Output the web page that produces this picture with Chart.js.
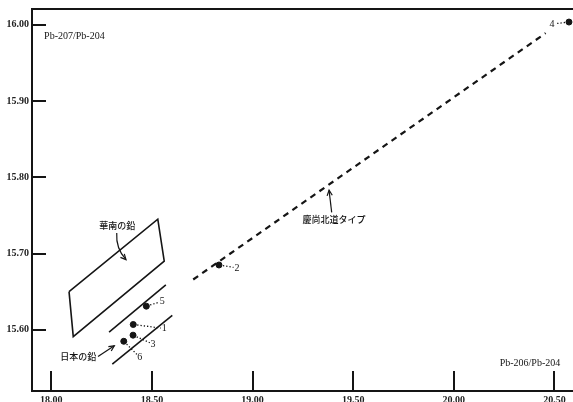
<!DOCTYPE html>
<html>
<head>
<meta charset="utf-8">
<script src="https://cdn.jsdelivr.net/npm/chart.js@4"></script>
<style>
  html, body { margin: 0; padding: 0; background: #fff; }
</style>
</head>
<body>
<canvas id="chart" width="573" height="402"></canvas>
<script>
// tick labels
const xTicks = [18.0, 18.5, 19.0, 19.5, 20.0, 20.5];
const yTicks = [15.6, 15.7, 15.8, 15.9, 16.0];

// lead samples (Pb-206/Pb-204, Pb-207/Pb-204)
const sampleIds = ['1', '2', '3', '4', '5', '6'];
const sampleX = [18.407, 18.833, 18.406, 20.572, 18.472, 18.360];
const sampleY = [15.607, 15.685, 15.593, 16.0035, 15.631, 15.585];

// 慶尚北道タイプ trend
const trendX = [18.705, 20.456];
const trendY = [15.666, 15.989];

// 華南の鉛 field
const huananX = [18.088, 18.529, 18.561, 18.109, 18.088];
const huananY = [15.650, 15.745, 15.690, 15.591, 15.650];

// 日本の鉛 band
const japanUpperX = [18.287, 18.569];
const japanUpperY = [15.597, 15.659];
const japanLowerX = [18.303, 18.601];
const japanLowerY = [15.555, 15.619];

// text labels, anchored in data units
const notes = [
  { text: '華南の鉛', x: 18.328, y: 15.737, from: [18.325, 15.727], to: [18.371, 15.692], bend: 6 },
  { text: '日本の鉛', x: 18.134, y: 15.565, from: [18.232, 15.565], to: [18.313, 15.579], bend: 0 },
  { text: '慶尚北道タイプ', x: 19.404, y: 15.744, from: [19.393, 15.754], to: [19.380, 15.783], bend: 0 }
];
const axisNames = [
  { text: 'Pb-207/Pb-204', x: 17.964, y: 15.985, align: 'left' },
  { text: 'Pb-206/Pb-204', x: 20.378, y: 15.556, align: 'center' }
];

// label offsets for sample numbers, in px (style only)
const idOffsets = [[31, 4], [18, 3], [20, 9], [-17, 2], [16, -5], [16, 16]];

const ink = '#151515';
const serif = '"Liberation Serif", "DejaVu Serif", serif';
const cjk = '"Noto Sans CJK JP", "Noto Sans CJK SC", sans-serif';

function pairs(xs, ys) {
  return xs.map((x, i) => ({ x: x, y: ys[i] }));
}

function arrowHead(ctx, x0, y0, x1, y1, size) {
  const a = Math.atan2(y1 - y0, x1 - x0);
  ctx.beginPath();
  ctx.moveTo(x1 - size * Math.cos(a - 0.45), y1 - size * Math.sin(a - 0.45));
  ctx.lineTo(x1, y1);
  ctx.lineTo(x1 - size * Math.cos(a + 0.45), y1 - size * Math.sin(a + 0.45));
  ctx.stroke();
}

const decorations = {
  id: 'decorations',
  afterDraw(chart) {
    const ctx = chart.ctx;
    const xs = chart.scales.x;
    const ys = chart.scales.y;
    const area = chart.chartArea;
    ctx.save();
    ctx.strokeStyle = ink;
    ctx.fillStyle = ink;

    // frame: top, left, bottom (right side runs off the page)
    ctx.lineWidth = 2;
    ctx.beginPath();
    ctx.moveTo(chart.width, area.top);
    ctx.lineTo(area.left, area.top);
    ctx.lineTo(area.left, area.bottom);
    ctx.lineTo(chart.width, area.bottom);
    ctx.stroke();

    // inward tick marks
    ys.ticks.forEach(t => {
      const py = Math.round(ys.getPixelForValue(t.value));
      ctx.beginPath();
      ctx.moveTo(area.left, py);
      ctx.lineTo(area.left + 14, py);
      ctx.stroke();
    });
    xs.ticks.forEach(t => {
      const px = Math.round(xs.getPixelForValue(t.value));
      ctx.beginPath();
      ctx.moveTo(px, area.bottom);
      ctx.lineTo(px, area.bottom - 20);
      ctx.stroke();
    });

    // sample numbers with dotted leaders
    ctx.font = '10px ' + serif;
    ctx.textAlign = 'center';
    ctx.textBaseline = 'middle';
    sampleIds.forEach((id, i) => {
      const px = xs.getPixelForValue(sampleX[i]);
      const py = ys.getPixelForValue(sampleY[i]);
      const lx = px + idOffsets[i][0];
      const ly = py + idOffsets[i][1];
      const d = Math.hypot(lx - px, ly - py);
      const ux = (lx - px) / d, uy = (ly - py) / d;
      ctx.lineWidth = 1.3;
      ctx.setLineDash([1.3, 2]);
      ctx.beginPath();
      ctx.moveTo(px + ux * 4, py + uy * 4);
      ctx.lineTo(lx - ux * 3.5, ly - uy * 3.5);
      ctx.stroke();
      ctx.setLineDash([]);
      ctx.fillText(id, lx, ly);
    });

    // notes with arrows
    ctx.font = '500 9px ' + cjk;
    ctx.lineWidth = 1.2;
    notes.forEach(n => {
      ctx.fillText(n.text, xs.getPixelForValue(n.x), ys.getPixelForValue(n.y));
      const x0 = xs.getPixelForValue(n.from[0]), y0 = ys.getPixelForValue(n.from[1]);
      const x1 = xs.getPixelForValue(n.to[0]), y1 = ys.getPixelForValue(n.to[1]);
      const mx = (x0 + x1) / 2, my = (y0 + y1) / 2;
      const len = Math.hypot(x1 - x0, y1 - y0);
      const cx = mx - (y1 - y0) / len * n.bend, cy = my + (x1 - x0) / len * n.bend;
      ctx.beginPath();
      ctx.moveTo(x0, y0);
      ctx.quadraticCurveTo(cx, cy, x1, y1);
      ctx.stroke();
      arrowHead(ctx, cx, cy, x1, y1, 6);
    });

    // axis names
    ctx.font = '10px ' + serif;
    axisNames.forEach(a => {
      ctx.textAlign = a.align;
      ctx.fillText(a.text, xs.getPixelForValue(a.x), ys.getPixelForValue(a.y));
    });
    ctx.restore();
  }
};

const lineStyle = { showLine: true, pointRadius: 0, borderColor: ink, fill: false, tension: 0 };

new Chart(document.getElementById('chart'), {
  type: 'scatter',
  data: {
    datasets: [
      Object.assign({ label: 'trend', data: pairs(trendX, trendY), borderWidth: 2.2, borderDash: [6, 5] }, lineStyle),
      Object.assign({ label: 'huanan', data: pairs(huananX, huananY), borderWidth: 1.6 }, lineStyle),
      Object.assign({ label: 'japanUpper', data: pairs(japanUpperX, japanUpperY), borderWidth: 1.6 }, lineStyle),
      Object.assign({ label: 'japanLower', data: pairs(japanLowerX, japanLowerY), borderWidth: 1.6 }, lineStyle),
      {
        label: 'samples',
        data: pairs(sampleX, sampleY),
        pointRadius: 3,
        pointBackgroundColor: ink,
        pointBorderColor: ink,
        showLine: false
      }
    ]
  },
  options: {
    responsive: false,
    animation: false,
    layout: { autoPadding: false, padding: { top: 9, left: 0, right: 0, bottom: 0 } },
    plugins: { legend: { display: false }, tooltip: { enabled: false } },
    scales: {
      x: {
        type: 'linear',
        min: 17.904,
        max: 20.592,
        afterBuildTicks: s => { s.ticks = xTicks.map(v => ({ value: v })); },
        afterFit: s => { s.height = 11; s.paddingLeft = 0; s.paddingRight = 0; },
        grid: { display: false, drawTicks: false },
        border: { display: false },
        ticks: {
          padding: 3,
          maxRotation: 0,
          color: '#222',
          font: { family: serif, size: 10, weight: 'bold' },
          callback: v => v.toFixed(2)
        }
      },
      y: {
        type: 'linear',
        min: 15.5198,
        max: 16.0206,
        afterBuildTicks: s => { s.ticks = yTicks.map(v => ({ value: v })); },
        afterFit: s => { s.width = 32; s.paddingTop = 0; s.paddingBottom = 0; },
        grid: { display: false, drawTicks: false },
        border: { display: false },
        ticks: {
          padding: 3,
          color: '#222',
          font: { family: serif, size: 10, weight: 'bold' },
          callback: v => v.toFixed(2)
        }
      }
    }
  },
  plugins: [decorations]
});
</script>
</body>
</html>
